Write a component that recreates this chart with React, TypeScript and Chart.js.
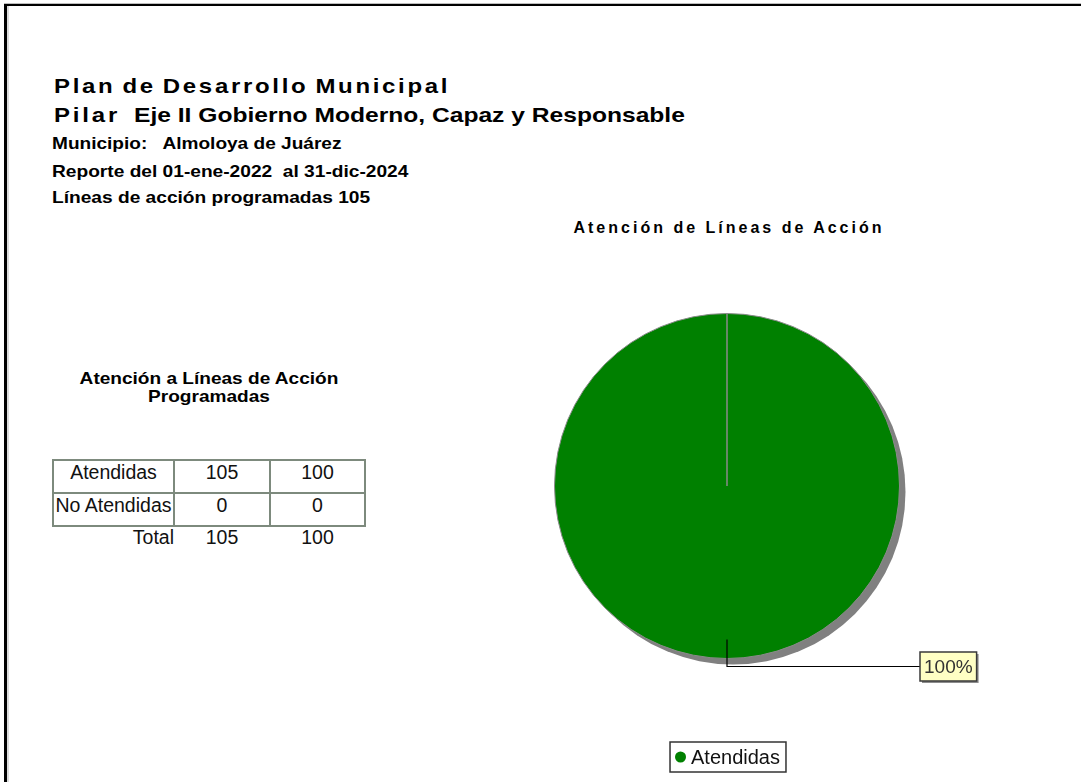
import React, { useEffect, useRef } from "react";
import { Chart, registerables } from "chart.js";

Chart.register(...registerables);

const categories = ["Atendidas", "No Atendidas"];
const counts = [105, 0];
const percents = [100, 0];
const sliceColors = ["#008000", "#ff0000"];

const headerLine1 = "Plan de Desarrollo Municipal";
const headerPilar = "Pilar";
const headerLine2 = "Eje II Gobierno Moderno, Capaz y Responsable";
const municipioLine = "Municipio:   Almoloya de Juárez";
const reporteLine = "Reporte del 01-ene-2022  al 31-dic-2024";
const programadasLine = "Líneas de acción programadas 105";
const tableTitle = ["Atención a Líneas de Acción", "Programadas"];
const chartTitle = "Atención de Líneas de Acción";

const FONT = "'Liberation Sans', Arial, Helvetica, sans-serif";

const shadowPlugin = {
  id: "pieShadow",
  beforeDatasetsDraw(chart: any) {
    const meta = chart.getDatasetMeta(0);
    const arc = meta.data[0];
    if (!arc) return;
    const { x, y, outerRadius } = arc.getProps(["x", "y", "outerRadius"], true);
    const ctx = chart.ctx;
    ctx.save();
    ctx.fillStyle = "#808080";
    ctx.beginPath();
    ctx.arc(x + 6, y + 6, outerRadius, 0, Math.PI * 2);
    ctx.fill();
    ctx.restore();
  },
};

const labelPlugin = {
  id: "pieLabels",
  afterDatasetsDraw(chart: any) {
    const meta = chart.getDatasetMeta(0);
    const data = chart.data.datasets[0].data as number[];
    const total = data.reduce((a, b) => a + b, 0);
    const ctx = chart.ctx;
    meta.data.forEach((arc: any, i: number) => {
      if (!data[i]) return;
      const { x, y, startAngle, endAngle, outerRadius } = arc.getProps(
        ["x", "y", "startAngle", "endAngle", "outerRadius"],
        true
      );
      const mid = (startAngle + endAngle) / 2;
      const p0x = x + Math.cos(mid) * outerRadius * 0.89;
      const p0y = y + Math.sin(mid) * outerRadius * 0.89;
      const p1x = x + Math.cos(mid) * (outerRadius + 8);
      const p1y = y + Math.sin(mid) * (outerRadius + 8);
      const boxLeft = p1x + 193;
      const text = Math.round((data[i] / total) * 100) + "%";
      ctx.save();
      ctx.strokeStyle = "#000";
      ctx.lineWidth = 1.2;
      ctx.beginPath();
      ctx.moveTo(p0x, p0y);
      ctx.lineTo(p1x, p1y);
      ctx.lineTo(boxLeft, p1y);
      ctx.stroke();
      ctx.font = `19px ${FONT}`;
      const tw = ctx.measureText(text).width;
      const bw = tw + 8;
      const bh = 29;
      const by = p1y - bh / 2;
      ctx.fillStyle = "#8c8c8c";
      ctx.fillRect(boxLeft + 2, by + 2, bw, bh);
      ctx.fillStyle = "#ffffc4";
      ctx.fillRect(boxLeft, by, bw, bh);
      ctx.strokeStyle = "#3a3a3a";
      ctx.lineWidth = 1.5;
      ctx.strokeRect(boxLeft, by, bw, bh);
      ctx.fillStyle = "#333";
      ctx.textBaseline = "middle";
      ctx.textAlign = "center";
      ctx.fillText(text, boxLeft + bw / 2, p1y + 1);
      ctx.restore();
    });
  },
};

const legendPlugin = {
  id: "boxLegend",
  afterDraw(chart: any) {
    const data = chart.data.datasets[0].data as number[];
    const colors = chart.data.datasets[0].backgroundColor as string[];
    const labels = chart.data.labels as string[];
    const items = labels
      .map((l, i) => ({ l, c: colors[i], v: data[i] }))
      .filter((it) => it.v > 0);
    const ctx = chart.ctx;
    const area = chart.chartArea;
    const cx = (area.left + area.right) / 2;
    ctx.save();
    ctx.font = `20px ${FONT}`;
    const widths = items.map((it) => ctx.measureText(it.l).width);
    const inner = widths.reduce((a, w) => a + 11 + 5 + w, 0) + (items.length - 1) * 10;
    const bw = inner + 11;
    const bh = 30;
    const bx = cx - bw / 2 + 1;
    const by = area.bottom + 83;
    ctx.fillStyle = "#fff";
    ctx.fillRect(bx, by, bw, bh);
    ctx.strokeStyle = "#333";
    ctx.lineWidth = 1.5;
    ctx.strokeRect(bx, by, bw, bh);
    let xx = bx + 5;
    items.forEach((it, i) => {
      ctx.fillStyle = it.c;
      ctx.beginPath();
      ctx.arc(xx + 5.5, by + bh / 2, 5.5, 0, Math.PI * 2);
      ctx.fill();
      ctx.fillStyle = "#111";
      ctx.textBaseline = "middle";
      ctx.textAlign = "left";
      ctx.fillText(it.l, xx + 16, by + bh / 2 + 1);
      xx += 16 + widths[i] + 10;
    });
    ctx.restore();
  },
};

function PieChart() {
  const ref = useRef<HTMLCanvasElement | null>(null);
  useEffect(() => {
    if (!ref.current) return;
    const chart = new Chart(ref.current, {
      type: "pie",
      data: {
        labels: categories,
        datasets: [
          {
            data: counts,
            backgroundColor: sliceColors,
            borderColor: "#8a8a8a",
            borderWidth: 1,
          },
        ],
      },
      options: {
        animation: false,
        responsive: false,
        maintainAspectRatio: false,
        events: [],
        layout: { padding: { top: 18, bottom: 123, left: 0, right: 0 } },
        plugins: {
          legend: { display: false },
          tooltip: { enabled: false },
          title: { display: false },
        },
      },
      plugins: [shadowPlugin, labelPlugin, legendPlugin],
    });
    return () => chart.destroy();
  }, []);
  return (
    <canvas
      ref={ref}
      width={620}
      height={487}
      style={{ position: "absolute", left: 417, top: 295, width: 620, height: 487 }}
    />
  );
}

const boldLine = (fs: number, sx: number): React.CSSProperties => ({
  position: "absolute",
  fontWeight: "bold",
  fontSize: fs,
  lineHeight: `${fs}px`,
  whiteSpace: "pre",
  transform: `scaleX(${sx})`,
  transformOrigin: "left top",
  color: "#000",
});

export default function App() {
  const totalCount = counts.reduce((a, b) => a + b, 0);
  const totalPct = percents.reduce((a, b) => a + b, 0);
  const cell: React.CSSProperties = {
    border: "2px solid #7d8a7d",
    padding: 0,
    height: 31,
    verticalAlign: "top",
    textAlign: "center",
    lineHeight: "22px",
  };
  return (
    <div
      style={{
        position: "absolute",
        left: 0,
        top: 0,
        width: 1081,
        height: 782,
        overflow: "hidden",
        background: "#fff",
        fontFamily: FONT,
        color: "#000",
      }}
    >
      {/* page frame */}
      <div style={{ position: "absolute", left: 4, top: 3, width: 1100, height: 1, background: "#bdbdbd" }} />
      <div style={{ position: "absolute", left: 4, top: 4, width: 1100, height: 2, background: "#000" }} />
      <div style={{ position: "absolute", left: 4, top: 4, width: 3, height: 800, background: "#000" }} />
      <div style={{ position: "absolute", left: 7, top: 6, width: 2, height: 800, background: "#dcdcdc" }} />

      {/* header */}
      <div style={{ ...boldLine(20.5, 1.17), left: 54, top: 76, letterSpacing: "2.3px", wordSpacing: "-2px" }}>
        {headerLine1}
      </div>
      <div style={{ ...boldLine(20.5, 1.17), left: 54, top: 105, letterSpacing: "2.4px" }}>{headerPilar}</div>
      <div style={{ ...boldLine(20.5, 1.2), left: 134, top: 105 }}>{headerLine2}</div>
      <div style={{ ...boldLine(16.5, 1.155), left: 52, top: 135 }}>{municipioLine}</div>
      <div style={{ ...boldLine(16.5, 1.16), left: 52, top: 163 }}>{reporteLine}</div>
      <div style={{ ...boldLine(16.5, 1.16), left: 52, top: 189 }}>{programadasLine}</div>

      {/* table title */}
      <div
        style={{
          position: "absolute",
          left: 59,
          top: 369,
          width: 300,
          textAlign: "center",
          fontWeight: "bold",
          fontSize: 16.5,
          lineHeight: "18px",
          transform: "scaleX(1.155)",
          transformOrigin: "center top",
        }}
      >
        <div>{tableTitle[0]}</div>
        <div>{tableTitle[1]}</div>
      </div>

      {/* table */}
      <table
        style={{
          position: "absolute",
          left: 52,
          top: 459,
          borderCollapse: "collapse",
          fontSize: 19.5,
          color: "#111",
        }}
      >
        <tbody>
          {categories.map((c, i) => (
            <tr key={c}>
              <td style={{ ...cell, width: 119 }}>{c}</td>
              <td style={{ ...cell, width: 94 }}>{counts[i]}</td>
              <td style={{ ...cell, width: 93 }}>{percents[i]}</td>
            </tr>
          ))}
          <tr>
            <td style={{ padding: 0, textAlign: "right", lineHeight: "20px", paddingRight: 0 }}>Total</td>
            <td style={{ padding: 0, textAlign: "center", lineHeight: "20px" }}>{totalCount}</td>
            <td style={{ padding: 0, textAlign: "center", lineHeight: "20px" }}>{totalPct}</td>
          </tr>
        </tbody>
      </table>

      {/* chart title */}
      <div
        style={{
          position: "absolute",
          left: 479,
          top: 220,
          width: 500,
          textAlign: "center",
          fontWeight: "bold",
          fontSize: 16,
          lineHeight: "16px",
          letterSpacing: "3px",
          whiteSpace: "pre",
        }}
      >
        {chartTitle}
      </div>

      <PieChart />
    </div>
  );
}
